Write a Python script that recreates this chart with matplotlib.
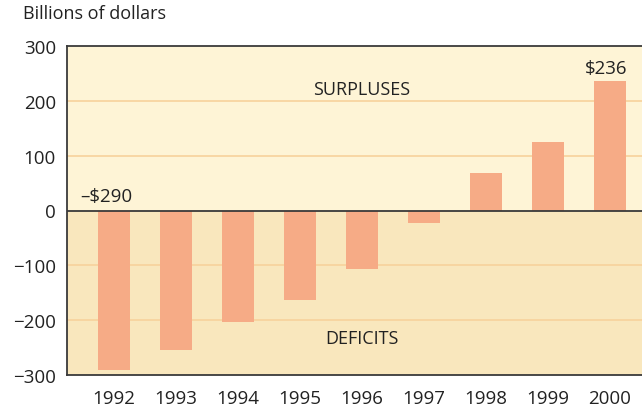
import matplotlib.pyplot as plt

plt.rcParams['font.family'] = ['Open Sans', 'DejaVu Sans']

years = [1992, 1993, 1994, 1995, 1996, 1997, 1998, 1999, 2000]
balance = [-290, -255, -203, -164, -107, -22, 69, 125, 236]
yticks = [-300, -200, -100, 0, 100, 200, 300]

bar_color = '#f6ab86'
upper_bg = '#fef4d6'
lower_bg = '#f9e7bd'
grid_color = '#f7d29c'
ink = '#222222'

fig = plt.figure(figsize=(6.42, 4.10), dpi=100)
ax = fig.add_axes([67 / 642, 1 - 376 / 410, (642 - 67) / 642, (376 - 47) / 410])

ax.set_xlim(1991.24, 2000.52)
ax.set_ylim(-300, 300)

# surplus / deficit background bands
ax.axhspan(0, 300, color=upper_bg, zorder=0)
ax.axhspan(-300, 0, color=lower_bg, zorder=0)
for v in yticks[1:-1]:
    if v != 0:
        ax.axhline(v, color=grid_color, lw=1.2, zorder=1)

ax.bar(years, balance, width=0.516, color=bar_color, zorder=2)
ax.axhline(0, color='#3a3a3a', lw=1.3, zorder=3)

ax.text(years[0] - 0.12, 10, f'\u2013${abs(balance[0])}', ha='center', va='bottom',
        fontsize=13.5, color=ink)
ax.text(years[-1] - 0.06, balance[-1] + 8, f'${balance[-1]}', ha='center', va='bottom',
        fontsize=13.5, color=ink)
ax.text(1996, 222, 'SURPLUSES', ha='center', va='center', fontsize=13, color=ink)
ax.text(1996, -232, 'DEFICITS', ha='center', va='center', fontsize=13, color=ink)

ax.set_yticks(yticks)
ax.set_yticklabels([f'\u2212{abs(v)}' if v < 0 else str(v) for v in yticks])
ax.set_xticks(years)
ax.set_xticklabels([str(y) for y in years])
ax.tick_params(axis='both', length=0, labelsize=13.5, colors=ink)
ax.tick_params(axis='y', pad=8)
ax.tick_params(axis='x', pad=10)

ax.spines['right'].set_visible(False)
for side in ['left', 'top', 'bottom']:
    ax.spines[side].set_color('#3a3a3a')
    ax.spines[side].set_linewidth(1.3)

fig.text(23 / 642, 1 - 14 / 410, 'Billions of dollars', ha='left', va='center',
         fontsize=13, color=ink)

fig.savefig('out.png', dpi=100)
